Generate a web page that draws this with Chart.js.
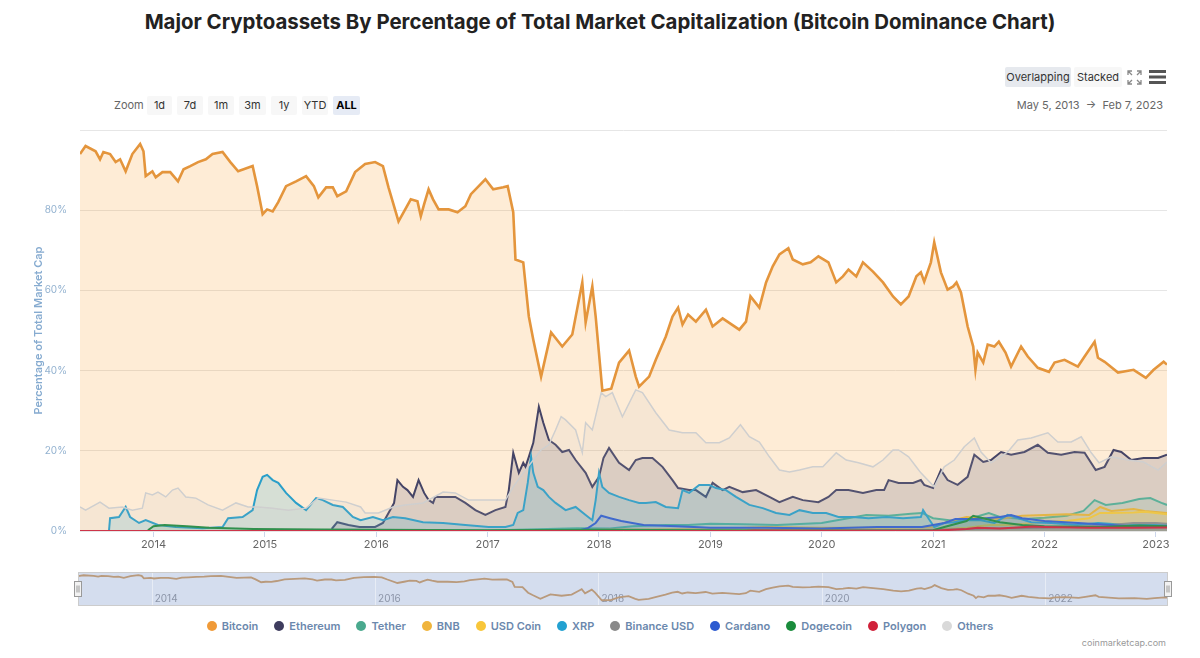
<!DOCTYPE html>
<html lang="en">
<head>
<meta charset="UTF-8">
<title>Bitcoin Dominance Chart</title>
<script src="https://cdn.jsdelivr.net/npm/chart.js"></script>
<style>
  body { margin: 0; width: 1200px; height: 658px; background: #fff; font-family: Inter, "Noto Sans", Arial, sans-serif; position: relative; overflow: hidden; }
  h1 { position: absolute; top: 8px; left: 0; width: 1200px; margin: 0; text-align: center; font-size: 20.4px; line-height: 28px; font-weight: 700; color: #222; }
  .abs { position: absolute; }
  .btn { position: absolute; height: 19px; line-height: 19px; font-size: 11px; color: #333; background: #f7f7f7; text-align: center; border-radius: 2px; }
  .btn.on { background: #e6ebf5; font-weight: 700; color: #000; }
  #zoomLbl { left: 114px; top: 96px; line-height: 19px; font-size: 11px; color: #666; }
  #range { right: 37px; top: 96px; line-height: 19px; font-size: 11px; color: #666; }
  #legend { position: absolute; left: 0; top: 617px; width: 1200px; display: flex; justify-content: center; gap: 16px; font-size: 11px; font-weight: 600; color: #6b88ad; }
  #legend span.it { display: flex; align-items: center; height: 18px; }
  #legend i { display: inline-block; width: 10px; height: 10px; border-radius: 50%; margin-right: 5px; }
  #credit { right: 34px; top: 637px; font-size: 9px; color: #999; }
  canvas { position: absolute; }
</style>
</head>
<body>
<h1>Major Cryptoassets By Percentage of Total Market Capitalization (Bitcoin Dominance Chart)</h1>

<div class="btn" style="left:1005px;top:67px;width:66px;height:20px;line-height:20px;background:#e6e9ee;color:#333">Overlapping</div>
<div class="btn" style="left:1074px;top:67px;width:48px;height:20px;line-height:20px">Stacked</div>
<svg class="abs" style="left:1127px;top:70px" width="15" height="15" viewBox="0 0 15 15" fill="none" stroke="#888" stroke-width="1.3">
  <path d="M1 5V1h4M1 1l4 4M14 5V1h-4M14 1l-4 4M1 10v4h4M1 14l4-4M14 10v4h-4M14 14l-4-4"/>
</svg>
<svg class="abs" style="left:1149px;top:70px" width="17" height="14" viewBox="0 0 17 14" fill="#555">
  <rect x="0" y="0" width="17" height="3"/><rect x="0" y="5.5" width="17" height="3"/><rect x="0" y="11" width="17" height="3"/>
</svg>

<div id="zoomLbl" class="abs">Zoom</div>
<div class="btn" style="left:147px;top:96px;width:25px">1d</div>
<div class="btn" style="left:177px;top:96px;width:26px">7d</div>
<div class="btn" style="left:208px;top:96px;width:26px">1m</div>
<div class="btn" style="left:239px;top:96px;width:27px">3m</div>
<div class="btn" style="left:271px;top:96px;width:26px">1y</div>
<div class="btn" style="left:302px;top:96px;width:26px">YTD</div>
<div class="btn on" style="left:333px;top:96px;width:27px">ALL</div>
<div id="range" class="abs">May 5, 2013 &nbsp;→&nbsp; Feb 7, 2023</div>

<canvas id="main" width="1200" height="430" style="left:0;top:125px"></canvas>
<canvas id="nav" width="1104" height="34" style="left:72px;top:572px"></canvas>

<div id="legend"></div>
<div id="credit" class="abs">coinmarketcap.com</div>

<script>
// x = decimal year, y = % of total market cap
const bitcoin = [[2013.34,94],[2013.39,96],[2013.48,94.7],[2013.52,92.7],[2013.55,94.5],[2013.61,94],[2013.66,92],[2013.70,92.7],[2013.75,89.7],[2013.81,94],[2013.88,96.5],[2013.91,94.7],[2013.93,88.5],[2013.99,89.7],[2014.02,88.2],[2014.08,89.5],[2014.15,89.5],[2014.22,87.2],[2014.27,90.2],[2014.33,91],[2014.40,92],[2014.47,92.7],[2014.53,94],[2014.62,94.5],[2014.69,92],[2014.76,89.7],[2014.89,91],[2014.93,86],[2014.98,79],[2015.02,80.2],[2015.07,79.7],[2015.12,82],[2015.19,86],[2015.28,87.2],[2015.37,88.5],[2015.44,86],[2015.48,83.2],[2015.55,85.7],[2015.61,85.7],[2015.65,83.5],[2015.73,84.7],[2015.81,89.5],[2015.90,91.5],[2015.99,92],[2016.06,91],[2016.11,85.7],[2016.20,77.2],[2016.26,80.2],[2016.31,82.7],[2016.37,82.2],[2016.40,78.5],[2016.43,81.5],[2016.47,85.2],[2016.51,82.7],[2016.56,80.2],[2016.65,80.2],[2016.73,79.5],[2016.80,81],[2016.85,84],[2016.92,86],[2016.98,87.7],[2017.05,85.2],[2017.14,85.7],[2017.18,86],[2017.23,79.5],[2017.25,67.7],[2017.32,67],[2017.37,53.5],[2017.41,47.7],[2017.48,38.5],[2017.57,49.5],[2017.67,46],[2017.76,49],[2017.82,57.7],[2017.85,62],[2017.88,52],[2017.94,61],[2017.97,53.5],[2018.03,35],[2018.11,35.5],[2018.18,42],[2018.27,45],[2018.33,38.5],[2018.36,36],[2018.45,38.5],[2018.51,42.7],[2018.60,48.5],[2018.66,53.5],[2018.71,55.7],[2018.75,51.5],[2018.80,54],[2018.87,52.2],[2018.96,55.2],[2019.02,51],[2019.11,53],[2019.26,50.2],[2019.32,52.2],[2019.36,58.5],[2019.44,55.7],[2019.50,62],[2019.56,66],[2019.62,69],[2019.70,70.5],[2019.74,67.7],[2019.83,66.5],[2019.90,67],[2019.97,68.5],[2020.06,67],[2020.13,62],[2020.19,63.5],[2020.24,65.2],[2020.31,63.5],[2020.37,67],[2020.46,64.7],[2020.55,62],[2020.64,58.5],[2020.71,56.5],[2020.78,58.5],[2020.85,63.5],[2020.89,64.5],[2020.92,62.2],[2020.98,67],[2021.01,72],[2021.07,64.5],[2021.13,60.2],[2021.18,61],[2021.21,62],[2021.25,59.5],[2021.31,51],[2021.36,46],[2021.38,40.2],[2021.40,44.5],[2021.45,42],[2021.49,46.5],[2021.55,46],[2021.59,47.2],[2021.65,44.5],[2021.70,41],[2021.79,46],[2021.85,43.5],[2021.94,40.7],[2022.04,39.7],[2022.09,42],[2022.18,42.7],[2022.30,41],[2022.36,43.5],[2022.45,47.2],[2022.48,43.2],[2022.54,42.2],[2022.66,39.5],[2022.80,40.2],[2022.91,38.2],[2022.98,40.2],[2023.07,42.2],[2023.10,41.5]];

const ethereum = [[2015.60,0.5],[2015.65,2.2],[2015.75,1.5],[2015.85,1],[2015.99,1],[2016.06,2],[2016.11,4.5],[2016.16,7],[2016.19,12.7],[2016.24,11],[2016.28,10.2],[2016.33,8.5],[2016.38,12.7],[2016.43,9.5],[2016.47,7.7],[2016.51,7],[2016.53,8.5],[2016.60,8.5],[2016.71,8.5],[2016.80,7],[2016.89,5.2],[2016.98,4],[2017.07,5.2],[2017.16,6],[2017.19,10.2],[2017.23,19.5],[2017.28,14.5],[2017.32,17],[2017.34,16],[2017.37,18.5],[2017.41,22],[2017.46,31],[2017.50,27],[2017.55,22.7],[2017.61,21.5],[2017.67,19.7],[2017.73,20.2],[2017.79,17.7],[2017.88,14.5],[2017.94,11],[2018.00,13.5],[2018.04,18.2],[2018.09,20.7],[2018.18,17],[2018.27,15.2],[2018.33,17.7],[2018.39,18.2],[2018.48,18.2],[2018.57,16],[2018.66,12.7],[2018.71,10.7],[2018.81,10.2],[2018.87,10.2],[2018.96,8.5],[2019.02,12],[2019.11,10.2],[2019.17,11],[2019.29,9.7],[2019.41,10.2],[2019.53,8.5],[2019.62,7.2],[2019.74,8.5],[2019.83,7.7],[2019.97,7.2],[2020.06,8.5],[2020.13,10.2],[2020.24,10.2],[2020.37,9.5],[2020.49,10.2],[2020.56,10.2],[2020.60,12.7],[2020.69,12],[2020.82,12],[2020.89,12.7],[2020.92,11.5],[2021.00,10.7],[2021.07,15.2],[2021.13,12.7],[2021.22,11.5],[2021.31,13.5],[2021.37,19],[2021.45,17.2],[2021.52,17.7],[2021.61,19.7],[2021.70,19],[2021.82,19.7],[2021.94,21.5],[2022.03,19.5],[2022.15,19],[2022.27,19.7],[2022.36,19.5],[2022.46,15.2],[2022.54,16],[2022.62,20.2],[2022.69,19.7],[2022.78,17.7],[2022.89,18.2],[2023.02,18.2],[2023.10,19]];

const tether = [[2015.10,0],[2015.50,0.1],[2016.00,0.1],[2017.00,0.1],[2017.80,0.7],[2018.10,0.6],[2018.30,1.2],[2018.60,1.5],[2018.80,1.5],[2019.00,1.8],[2019.30,1.7],[2019.60,1.5],[2020.00,2],[2020.20,3],[2020.40,4],[2020.60,3.8],[2020.80,4.3],[2020.90,4.5],[2021.00,3.2],[2021.20,2.5],[2021.38,3.5],[2021.50,4.5],[2021.60,3.5],[2021.80,3],[2022.00,3.3],[2022.20,3.8],[2022.35,5],[2022.45,7.7],[2022.55,6.5],[2022.70,7],[2022.85,8],[2022.95,8.2],[2023.05,7],[2023.10,6.5]];

const bnb = [[2017.55,0],[2017.60,0.1],[2018.00,0.3],[2019.00,0.5],[2019.50,1],[2020.00,0.8],[2020.50,0.8],[2021.00,1],[2021.15,2.5],[2021.30,3.5],[2021.45,3.2],[2021.60,3],[2021.80,3.8],[2022.00,4],[2022.20,4.2],[2022.40,4],[2022.50,6],[2022.60,5],[2022.80,5.5],[2022.90,5],[2023.10,4.5]];

const usdCoin = [[2018.80,0],[2019.00,0.1],[2020.00,0.2],[2020.50,0.4],[2021.00,0.4],[2021.30,0.8],[2021.50,1.5],[2021.70,1.5],[2022.00,2.3],[2022.20,2.5],[2022.40,3.2],[2022.50,4.5],[2022.60,4.5],[2022.80,4.6],[2022.90,4.8],[2023.10,4.2]];

const xrp = [[2013.60,0],[2013.61,3.2],[2013.69,3.5],[2013.75,6],[2013.79,3.5],[2013.87,2],[2013.93,2.7],[2014.04,1.5],[2014.20,1],[2014.44,0.7],[2014.62,1],[2014.67,3.2],[2014.80,3.5],[2014.89,5.2],[2014.93,10.2],[2014.98,13.5],[2015.02,14],[2015.07,12.7],[2015.12,12],[2015.19,9.5],[2015.28,7],[2015.37,5.2],[2015.46,8.2],[2015.52,7.7],[2015.61,6.5],[2015.70,6],[2015.79,3.5],[2015.86,2.7],[2015.97,3.5],[2016.06,2.7],[2016.15,3.5],[2016.26,3.2],[2016.42,2.2],[2016.60,2],[2016.80,1.5],[2017.01,1],[2017.16,1],[2017.23,1.5],[2017.27,4.5],[2017.32,5.2],[2017.36,12],[2017.39,18.5],[2017.41,14.5],[2017.45,11],[2017.50,10.2],[2017.55,8.5],[2017.61,7],[2017.70,5.2],[2017.79,6],[2017.88,4],[2017.94,2.7],[2017.97,7.7],[2018.00,14.5],[2018.03,11],[2018.09,9.5],[2018.18,8.5],[2018.27,7.7],[2018.36,7],[2018.42,7],[2018.51,7.2],[2018.60,6],[2018.71,5.7],[2018.75,10.2],[2018.81,9.5],[2018.90,11.5],[2018.99,11.5],[2019.05,10.7],[2019.14,10.2],[2019.23,8.5],[2019.35,6.5],[2019.47,5.7],[2019.59,4.5],[2019.71,4],[2019.80,5.2],[2019.92,4.5],[2020.04,4.5],[2020.15,3.5],[2020.28,3.5],[2020.42,3.2],[2020.58,3.5],[2020.73,3.2],[2020.89,3.5],[2020.91,5.2],[2020.95,3.5],[2021.01,1],[2021.10,2],[2021.19,2.2],[2021.31,2.7],[2021.43,2.7],[2021.55,2],[2021.67,4],[2021.76,3.2],[2021.88,2.2],[2022.06,2],[2022.30,1.5],[2022.48,2],[2022.75,1.5],[2023.10,1.5]];

const binanceUsd = [[2019.70,0],[2020.00,0.1],[2021.00,0.3],[2021.50,0.6],[2022.00,0.8],[2022.50,1.3],[2022.80,2],[2023.00,2],[2023.10,1.8]];

const cardano = [[2017.80,0],[2017.90,0.7],[2017.97,2],[2018.02,3.8],[2018.10,3.2],[2018.20,2.5],[2018.40,1.5],[2018.70,1.2],[2019.00,0.8],[2019.50,0.8],[2020.00,0.6],[2020.50,1],[2020.90,1],[2021.10,2],[2021.20,3],[2021.40,3],[2021.60,3.5],[2021.70,4],[2021.80,3.2],[2022.00,2.5],[2022.30,2],[2022.60,1.5],[2022.90,1],[2023.10,1.2]];

const dogecoin = [[2013.95,0.2],[2014.00,1.2],[2014.10,1.5],[2014.30,1.2],[2014.50,0.8],[2014.90,0.5],[2015.50,0.4],[2016.00,0.3],[2017.00,0.2],[2018.00,0.3],[2019.00,0.2],[2020.00,0.1],[2021.00,0.2],[2021.10,1],[2021.30,2.5],[2021.36,3.8],[2021.45,3.2],[2021.60,2.2],[2021.80,1.5],[2022.00,1.2],[2022.50,1],[2022.85,1.4],[2023.10,1.2]];

const polygon = [[2013.34,0],[2019.30,0],[2019.40,0.1],[2020.00,0.05],[2021.00,0.05],[2021.30,0.5],[2021.40,0.8],[2021.60,0.6],[2021.90,1.1],[2022.00,1],[2022.40,0.8],[2022.80,0.8],[2023.10,0.9]];

const others = [[2013.34,6],[2013.39,5.2],[2013.52,7.2],[2013.60,5.7],[2013.72,6],[2013.81,5.2],[2013.90,5.7],[2013.93,9.5],[2013.99,9],[2014.04,9.7],[2014.11,8.5],[2014.17,10.2],[2014.22,10.7],[2014.29,8.5],[2014.38,8.2],[2014.49,6.5],[2014.62,5.2],[2014.74,7],[2014.85,6],[2014.94,6],[2015.07,5.7],[2015.21,5.2],[2015.37,5.7],[2015.48,8.2],[2015.61,7.7],[2015.73,7.2],[2015.86,6],[2015.90,4.5],[2016.02,4.5],[2016.15,6],[2016.26,6.5],[2016.42,7],[2016.60,9.7],[2016.71,9.5],[2016.83,7.7],[2016.96,7.7],[2017.16,7.7],[2017.23,11],[2017.32,14.5],[2017.41,17.7],[2017.48,20.2],[2017.55,21.5],[2017.61,25.2],[2017.66,28.5],[2017.70,27.7],[2017.79,25.2],[2017.85,19.5],[2017.88,27],[2017.94,25.2],[2017.99,31],[2018.02,34.5],[2018.06,33.5],[2018.12,34.5],[2018.21,28.5],[2018.33,35.2],[2018.39,34.5],[2018.51,29.5],[2018.63,25.2],[2018.75,24.5],[2018.87,24.5],[2018.96,22],[2019.08,22],[2019.17,23.2],[2019.27,26.5],[2019.35,23.5],[2019.44,22.2],[2019.53,18.5],[2019.62,15.2],[2019.71,14.7],[2019.80,15.2],[2019.92,16],[2020.01,16],[2020.13,19.5],[2020.22,17.7],[2020.33,17],[2020.46,16],[2020.55,17.7],[2020.64,20.2],[2020.69,20.2],[2020.78,18.5],[2020.87,15.2],[2020.89,14.5],[2021.01,11],[2021.10,16],[2021.19,17.7],[2021.28,21],[2021.37,23.2],[2021.43,19.7],[2021.52,17],[2021.67,19.7],[2021.76,22.7],[2021.88,23.2],[2022.03,24.5],[2022.12,22.2],[2022.24,22.2],[2022.33,23.5],[2022.42,19.5],[2022.49,17],[2022.60,18.5],[2022.75,17.7],[2022.89,17.2],[2023.02,15.2],[2023.10,17.2]];

const seriesNames = ['Bitcoin', 'Ethereum', 'Tether', 'BNB', 'USD Coin', 'XRP', 'Binance USD', 'Cardano', 'Dogecoin', 'Polygon', 'Others'];
const seriesData = [bitcoin, ethereum, tether, bnb, usdCoin, xrp, binanceUsd, cardano, dogecoin, polygon, others];
const lineColors = ['#e4953c', '#454466', '#50af95', '#e9b436', '#f4c83a', '#2a9fc9', '#8c8c8c', '#2f5fd0', '#1e8a3e', '#d0213a', '#cfcfcf'];
const fillColors = ['rgba(247,147,26,0.18)', 'rgba(69,68,102,0.17)', 'rgba(80,175,149,0.15)', 'rgba(233,180,54,0.15)', 'rgba(244,200,58,0.15)', 'rgba(35,160,205,0.18)', 'rgba(140,140,140,0.12)', 'rgba(47,95,208,0.12)', 'rgba(30,138,62,0.12)', 'rgba(208,33,58,0.12)', 'rgba(190,190,190,0.12)'];
const legendColors = ['#f09a38', '#3e3c5e', '#4aa98e', '#f0b43c', '#f8c63a', '#23a1d1', '#8a8a8a', '#2d5bd0', '#1a8c3c', '#d0213a', '#d9d9d9'];
const yearTicks = [2014, 2015, 2016, 2017, 2018, 2019, 2020, 2021, 2022, 2023];
const navYears = [2014, 2016, 2018, 2020, 2022];
const xMin = 2013.34, xMax = 2023.10;

const toXY = arr => arr.map(([x, y]) => ({ x, y }));

const datasets = seriesNames.map((name, i) => ({
    label: name,
    data: toXY(seriesData[i]),
    borderColor: lineColors[i],
    backgroundColor: fillColors[i],
    borderWidth: i === 0 ? 2.6 : (i === 10 ? 1.5 : 2),
    fill: 'origin',
    pointRadius: 0,
    tension: 0,
    order: seriesNames.length - i
}));

new Chart(document.getElementById('main'), {
    type: 'line',
    data: { datasets },
    options: {
        responsive: false,
        animation: false,
        events: [],
        layout: { padding: { top: 5, right: 33, left: 28, bottom: 0 } },
        plugins: { legend: { display: false }, tooltip: { enabled: false } },
        scales: {
            x: {
                type: 'linear', min: xMin, max: xMax,
                afterBuildTicks: s => { s.ticks = yearTicks.map(v => ({ value: v })); },
                afterFit: s => { s.height = 24; s.paddingLeft = 0; s.paddingRight = 0; },
                grid: { drawOnChartArea: false, drawTicks: true, tickLength: 6, color: '#ccd6eb' },
                border: { display: false },
                ticks: { padding: 1, maxRotation: 0, autoSkip: false, color: '#666', font: { family: 'Inter', size: 11 }, callback: v => String(v) }
            },
            y: {
                min: 0, max: 100,
                ticks: { stepSize: 20, padding: 13, color: '#93b2d0', font: { family: 'Inter', size: 10 }, callback: v => v === 100 ? '' : v + '%' },
                afterFit: s => { s.width = 52; s.paddingTop = 0; s.paddingBottom = 0; },
                grid: { color: '#e6e6e6', drawTicks: false },
                border: { display: false },
                title: { display: true, text: 'Percentage of Total Market Cap', color: '#86abd0', font: { family: 'Inter', size: 11, weight: '600' } }
            }
        }
    }
});

// navigator strip under the chart
const navPlugin = {
    id: 'navDecor',
    beforeDatasetsDraw(chart) {
        const { ctx, chartArea: a, scales: { x } } = chart;
        ctx.save();
        ctx.fillStyle = 'rgba(102,133,194,0.28)';
        ctx.fillRect(a.left, a.top, a.right - a.left, a.bottom - a.top);
        ctx.strokeStyle = 'rgba(255,255,255,0.45)';
        ctx.lineWidth = 1;
        ctx.font = '10px Inter';
        navYears.forEach(yr => {
            const px = Math.round(x.getPixelForValue(yr)) + 0.5;
            ctx.beginPath(); ctx.moveTo(px, a.top); ctx.lineTo(px, a.bottom); ctx.stroke();
        });
        ctx.fillStyle = '#8c95a8';
        ctx.textBaseline = 'bottom';
        navYears.forEach(yr => ctx.fillText(String(yr), x.getPixelForValue(yr) + 3, a.bottom - 2));
        ctx.restore();
    },
    afterDraw(chart) {
        const { ctx, chartArea: a } = chart;
        ctx.save();
        ctx.strokeStyle = '#cccccc';
        ctx.lineWidth = 1;
        ctx.strokeRect(a.left + 0.5, a.top + 0.5, a.right - a.left - 1, a.bottom - a.top - 1);
        [a.left, a.right].forEach(hx => {
            const x0 = Math.round(hx - 4) + 0.5, y0 = a.top + 9.5;
            ctx.fillStyle = '#f2f2f2';
            ctx.strokeStyle = '#999';
            ctx.fillRect(x0, y0, 7, 15);
            ctx.strokeRect(x0, y0, 7, 15);
            ctx.beginPath();
            ctx.moveTo(x0 + 2.5, y0 + 4); ctx.lineTo(x0 + 2.5, y0 + 11);
            ctx.moveTo(x0 + 4.5, y0 + 4); ctx.lineTo(x0 + 4.5, y0 + 11);
            ctx.stroke();
        });
        ctx.restore();
    }
};

new Chart(document.getElementById('nav'), {
    type: 'line',
    data: { datasets: [{ data: toXY(bitcoin), borderColor: '#b99a7c', borderWidth: 1.8, pointRadius: 0, fill: false, tension: 0 }] },
    options: {
        responsive: false,
        animation: false,
        events: [],
        layout: { padding: { left: 6, right: 8, top: 0, bottom: 0 } },
        plugins: { legend: { display: false }, tooltip: { enabled: false } },
        scales: {
            x: { type: 'linear', min: xMin, max: xMax, display: false },
            y: { min: 21, max: 104, display: false }
        }
    },
    plugins: [navPlugin]
});

// legend
const legend = document.getElementById('legend');
seriesNames.forEach((name, i) => {
    const it = document.createElement('span');
    it.className = 'it';
    it.innerHTML = '<i style="background:' + legendColors[i] + '"></i>' + name;
    legend.appendChild(it);
});
</script>
</body>
</html>
